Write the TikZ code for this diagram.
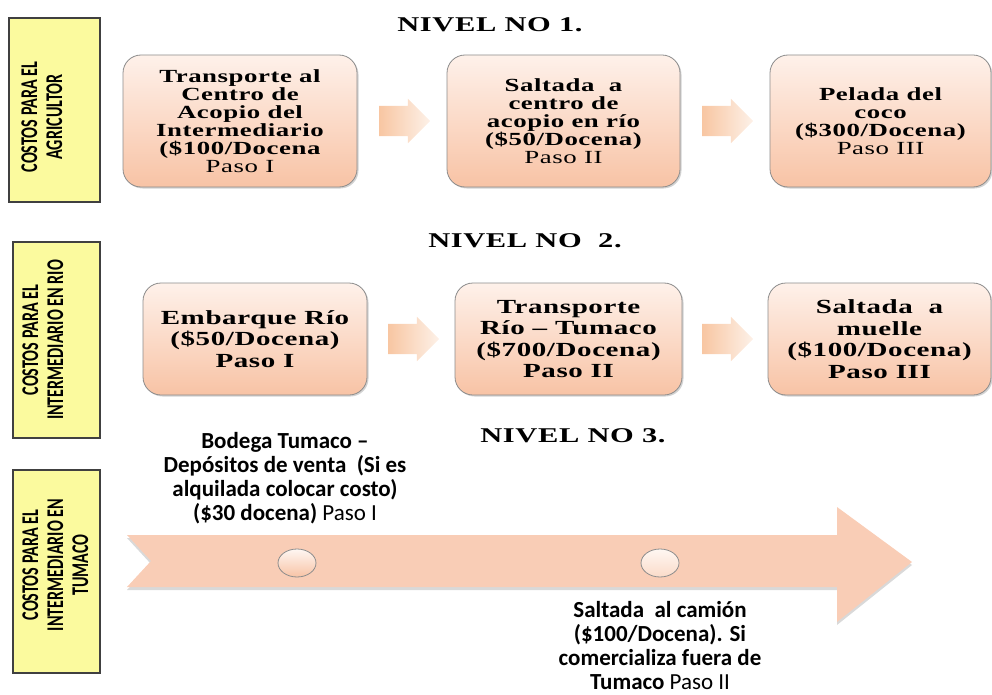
\documentclass[tikz,border=0pt]{standalone}
\usepackage{fontspec}
\usepackage{graphicx}
\setmainfont{Liberation Serif}
\newfontfamily\wserif{Liberation Serif}[FakeStretch=1.45,LetterSpace=3]
\newfontfamily\calib{Carlito}
\usetikzlibrary{shapes.arrows,shapes.geometric,shadows,calc}
\definecolor{ybox}{HTML}{FBFA9E}
\definecolor{boxtop}{HTML}{FEF1EA}
\definecolor{boxbot}{HTML}{F8C3A5}
\definecolor{arrL}{HTML}{F8C6A2}
\definecolor{arrR}{HTML}{FDF1E8}
\definecolor{bigarr}{HTML}{F9CDB6}
\definecolor{edgegray}{HTML}{8C8C8C}
\tikzset{
  sidebox/.style={draw=black!75, line width=1.2pt, fill=ybox, inner sep=0pt},
  sidelabel/.style={rotate=90, anchor=north, inner sep=0pt, font=\calib\bfseries\fontsize{24}{25}\selectfont},
  stepbox/.style={draw=edgegray, line width=0.8pt, rounded corners=18pt, top color=boxtop, bottom color=boxbot,
    align=center, inner sep=0pt, drop shadow={shadow xshift=1.5pt, shadow yshift=-1.5pt, opacity=0.35}},
  lvlone/.style={font=\wserif\bfseries\fontsize{18.5}{18}\selectfont},
  lvltwo/.style={font=\wserif\bfseries\fontsize{20}{21.5}\selectfont},
  flowarrow/.style={single arrow, single arrow head extend=7pt, inner xsep=0pt, inner ysep=15pt,
    minimum height=51pt, left color=arrL, right color=arrR, draw=none, xshift=-5pt},
  leveltitle/.style={font=\wserif\bfseries\fontsize{21}{24}\selectfont, inner sep=0pt},
  sanstext/.style={align=center, inner sep=0pt, font=\calib\bfseries\fontsize{23}{24}\selectfont},
  dot/.style={ellipse, draw=edgegray, line width=0.8pt, top color=boxtop!60!white, bottom color=boxbot,
    minimum width=38pt, minimum height=28pt, inner sep=0pt}
}
\begin{document}
\begin{tikzpicture}[x=1pt,y=-1pt]
\useasboundingbox (0,0) rectangle (992,695);
% side boxes
\node[sidebox, minimum width=91pt, minimum height=184pt] (y1) at (54.5,110) {};
\node[sidebox, minimum width=87pt, minimum height=196pt] (y2) at (56.5,340) {};
\node[sidebox, minimum width=87pt, minimum height=203pt] (y3) at (56.5,571.5) {};
\node[sidelabel] (l1) at (19.5,117) {\scalebox{0.67}[1]{\begin{tabular}{@{}c@{}}COSTOS PARA EL\\AGRICULTOR\end{tabular}}};
\node[sidelabel] (l2) at (20.5,340) {\scalebox{0.67}[1]{\begin{tabular}{@{}c@{}}COSTOS PARA EL\\INTERMEDIARIO EN RIO\end{tabular}}};
\node[sidelabel] (l3) at (20.5,565) {\scalebox{0.67}[1]{\begin{tabular}{@{}c@{}}COSTOS PARA EL\\INTERMEDIARIO EN\\TUMACO\end{tabular}}};
% titles
\node[leveltitle] (n1) at (490,25) {NIVEL NO 1.};
\node[leveltitle] (n2) at (525,241) {NIVEL NO\ \ 2.};
\node[leveltitle] (n3) at (573,436) {NIVEL NO 3.};
% level 1
\node[stepbox, lvlone, minimum width=234pt, minimum height=132pt] (a) at (240,121)
  {Transporte al\\Centro de\\Acopio del\\Intermediario\\(\$100/Docena\\{\mdseries Paso I}};
\node[stepbox, lvlone, minimum width=233pt, minimum height=132pt] (b) at (563.5,121)
  {Saltada\ \ a\\centro de\\acopio en río\\(\$50/Docena)\\{\mdseries Paso II}};
\node[stepbox, lvlone, minimum width=221pt, minimum height=132pt] (c) at (880.5,121)
  {Pelada del\\coco\\(\$300/Docena)\\{\mdseries Paso III}};
\node[flowarrow] (ab) at ($(a.east)!0.5!(b.west)$) {};
\node[flowarrow] (bc) at ($(b.east)!0.5!(c.west)$) {};
% level 2
\node[stepbox, lvltwo, minimum width=224pt, minimum height=112pt] (d) at (255,339)
  {Embarque Río\\(\$50/Docena)\\Paso I};
\node[stepbox, lvltwo, minimum width=227pt, minimum height=112pt] (e) at (568.5,339)
  {Transporte\\Río – Tumaco\\(\$700/Docena)\\Paso II};
\node[stepbox, lvltwo, minimum width=223pt, minimum height=112pt] (f) at (879.5,339)
  {Saltada\ \ a\\muelle\\(\$100/Docena)\\Paso III};
\node[flowarrow] (de) at ($(d.east)!0.5!(e.west)$) {};
\node[flowarrow] (ef) at ($(e.east)!0.5!(f.west)$) {};
% level 3
\path[fill=bigarr, drop shadow={shadow xshift=0pt, shadow yshift=-3pt, opacity=0.3}]
  (127,535) -- (837,535) -- (837,507) -- (912,562) -- (837,622) -- (837,587) -- (127,587) -- (151,561) -- cycle;
\node[dot] (p1) at (297,563) {};
\node[dot, bottom color=boxbot!60!white] (p2) at (660,563) {};
\node[sanstext] (s1) at (285,478)
  {Bodega Tumaco –\\Depósitos de venta\ \ (Si es\\alquilada colocar costo)\\(\$30 docena) {\mdseries Paso I}};
\node[sanstext] (s2) at (660,646)
  {Saltada\ \ al camión\\(\$100/Docena). Si\\comercializa fuera de\\Tumaco {\mdseries Paso II}};
\end{tikzpicture}
\end{document}
